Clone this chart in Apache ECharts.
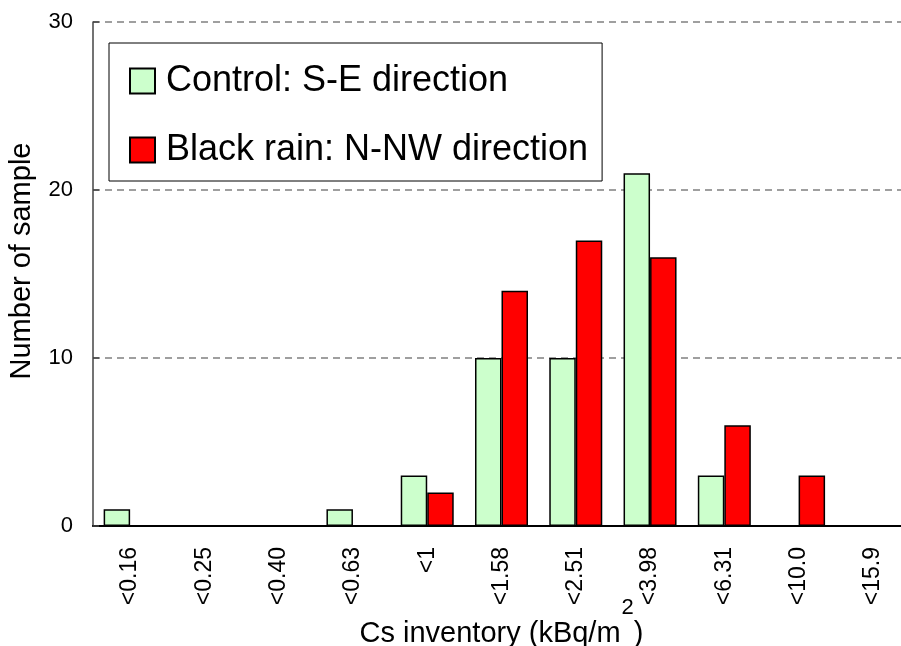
<!DOCTYPE html>
<html>
<head>
<meta charset="utf-8">
<script src="https://cdn.jsdelivr.net/npm/echarts@6/dist/echarts.min.js"></script>
<style>
html,body{margin:0;padding:0;background:#fff;}
#chart{width:901px;height:646px;}
</style>
</head>
<body>
<div id="chart"></div>
<script>
var categories = ['<0.16','<0.25','<0.40','<0.63','<1','<1.58','<2.51','<3.98','<6.31','<10.0','<15.9'];
var controlValues = [1,0,0,1,3,10,10,21,3,0,0];
var blackRainValues = [0,0,0,0,2,14,17,16,6,3,0];
var seriesNames = ['Control: S-E direction','Black rain: N-NW direction'];
var yTicks = {min:0, max:30, interval:10};

var FONT = '"Liberation Sans", Arial, sans-serif';
var chart = echarts.init(document.getElementById('chart'), null, {renderer:'canvas'});
chart.setOption({
  animation:false,
  backgroundColor:'#ffffff',
  grid:{left:93, top:22, bottom:120, right:-9, containLabel:false, outerBoundsMode:'none'},
  legend:{
    orient:'vertical', left:109, top:43,
    padding:[20,14,13,20],
    borderColor:'#000', borderWidth:1,
    backgroundColor:'#fff',
    itemWidth:25, itemHeight:25, itemGap:33,
    icon:'rect',
    textStyle:{fontFamily:FONT, fontSize:36, color:'#000', lineHeight:36, padding:[0,0,0,6]},
    data:seriesNames
  },
  xAxis:{
    type:'category', data:categories,
    axisLine:{lineStyle:{color:'#000', width:2}},
    axisTick:{inside:true, length:7, lineStyle:{color:'#000', width:1.2}},
    axisLabel:{rotate:90, fontFamily:FONT, fontSize:23, color:'#000', margin:21, interval:0},
    name:'{a|Cs inventory (kBq/m}{s|2}{a|)}',
    nameLocation:'middle', nameGap:93, nameMoveOverlap:false,
    nameTextStyle:{rich:{
      a:{fontFamily:FONT, fontSize:29, color:'#000', lineHeight:29},
      s:{fontFamily:FONT, fontSize:22, color:'#000', lineHeight:22, padding:[0,0,52,1]}
    }}
  },
  yAxis:{
    type:'value', min:yTicks.min, max:yTicks.max, interval:yTicks.interval,
    axisLine:{show:true, lineStyle:{color:'#444', width:1.5}},
    axisTick:{show:true, inside:true, length:6, lineStyle:{color:'#444', width:1.5}},
    axisLabel:{fontFamily:FONT, fontSize:22, color:'#000', margin:20},
    splitLine:{show:true, lineStyle:{color:'#808080', width:1.5, type:[7,5]}},
    name:'Number of sample', nameLocation:'middle', nameGap:57, nameMoveOverlap:false,
    nameTextStyle:{fontFamily:FONT, fontSize:29, color:'#000', padding:[0,0,0,26]}
  },
  series:[
    {name:seriesNames[0], type:'bar', data:controlValues, barWidth:26.5, barGap:'0%',
     itemStyle:{color:'#CCFFCC', borderColor:'#000', borderWidth:1.5}},
    {name:seriesNames[1], type:'bar', data:blackRainValues, barWidth:26.5, barGap:'0%',
     itemStyle:{color:'#FF0000', borderColor:'#000', borderWidth:1.5}}
  ]
});
</script>
</body>
</html>
